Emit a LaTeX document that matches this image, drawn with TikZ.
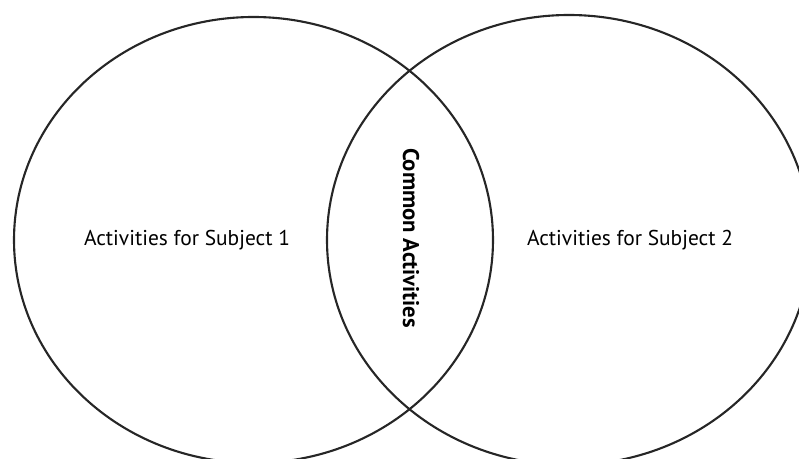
\documentclass[tikz,border=0pt]{standalone}
\usepackage{fontspec}
\setmainfont{PT Sans}

\begin{document}
\begin{tikzpicture}[x=0.02cm, y=-0.02cm]

% Frame of the picture
\useasboundingbox (0,0) rectangle (799,459);
\clip (0,0) rectangle (799,459);

% Centres of the two sets
\coordinate (s1) at (253.5, 240);
\coordinate (s2) at (569, 240);

% The two sets
\draw[line width=1.2pt, black!85] (s1) ellipse [x radius=239.5*0.02cm, y radius=223*0.02cm];
\draw[line width=1.2pt, black!85] (s2) ellipse [x radius=242*0.02cm, y radius=225*0.02cm];

% Labels
\node (lab1) at (187, 240) {\fontsize{12.2}{14}\selectfont Activities for Subject 1};
\node (lab2) at (630, 240) {\fontsize{12.2}{14}\selectfont Activities for Subject 2};
\node[rotate=-90] (common) at (411, 238) {\fontsize{12.9}{15}\selectfont\bfseries Common Activities};

\end{tikzpicture}
\end{document}
